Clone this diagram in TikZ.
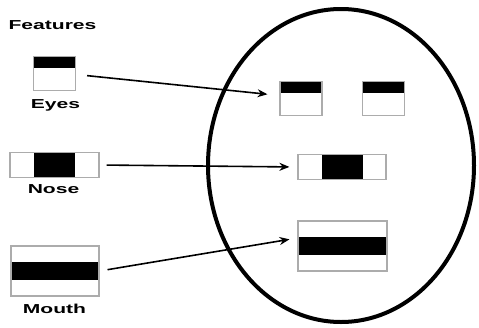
\documentclass[tikz,border=0pt]{standalone}
\usepackage{fontspec}
\usepackage{graphicx}
\setmainfont{Liberation Sans}
\usetikzlibrary{calc,shapes.geometric,arrows.meta}
\tikzset{
  feat/.style={draw=gray!65, line width=1.2pt, inner sep=0pt, fill=white,
    rectangle, minimum width=#1},
  hband/.style 2 args={path picture={
    \fill[black] ($(path picture bounding box.north west)!#1!(path picture bounding box.south west)$)
      rectangle ($(path picture bounding box.north east)!#2!(path picture bounding box.south east)$);}},
  vband/.style 2 args={path picture={
    \fill[black] ($(path picture bounding box.north west)!#1!(path picture bounding box.north east)$)
      rectangle ($(path picture bounding box.south west)!#2!(path picture bounding box.south east)$);}},
  lbl/.style={anchor=base, inner sep=0pt, font=\fontsize{13}{15}\selectfont\bfseries},
  link/.style={draw=black, line width=1.6pt, -{Stealth[length=10pt,width=8pt]}}
}
\newcommand{\wide}[1]{\scalebox{1.62}[1]{#1}}
\begin{document}
\begin{tikzpicture}[x=1pt,y=-1pt]
\useasboundingbox (0,0) rectangle (479,327);

% face outline
\node[draw, ellipse, line width=4pt, inner sep=0pt,
      minimum width=266pt, minimum height=313pt] (face) at (341,165.5) {};

% feature templates on the left
\node[lbl] (title) at (52.5,29) {\wide{Features}};

\node[feat=42pt, minimum height=34pt, hband={0}{0.34}] (eyeS) at (54.5,73.5) {};
\node[lbl] (eyeT) at (55.5,108) {\wide{Eyes}};

\node[feat=89pt, minimum height=25pt, vband={0.27}{0.73}] (noseS) at (54.5,165) {};
\node[lbl] (noseT) at (53.5,193) {\wide{Nose}};

\node[feat=88pt, minimum height=50pt, hband={0.32}{0.67}] (mouthS) at (55,271) {};
\node[lbl] (mouthT) at (54.5,313) {\wide{Mouth}};

% features placed inside the face
\node[feat=42pt, minimum height=34pt, hband={0}{0.34}] (eyeL) at (301,98.5) {};
\node[feat=42pt, minimum height=34pt, hband={0}{0.34}] (eyeR) at (383.5,98.5) {};
\node[feat=88pt, minimum height=25pt, vband={0.27}{0.74}] (noseL) at (342,167) {};
\node[feat=89pt, minimum height=50pt, hband={0.32}{0.67}] (mouthL) at (342.5,246) {};

% placement arrows
\draw[link, shorten <=11pt, shorten >=12pt] ([yshift=-1pt]eyeS.east) -- ([yshift=3pt]eyeL.west);
\draw[link, shorten <=7pt, shorten >=8pt] (noseS.east) -- (noseL.west);
\draw[link, shorten <=8pt, shorten >=8pt] (mouthS.east) -- ([yshift=8pt]mouthL.west);
\end{tikzpicture}
\end{document}
